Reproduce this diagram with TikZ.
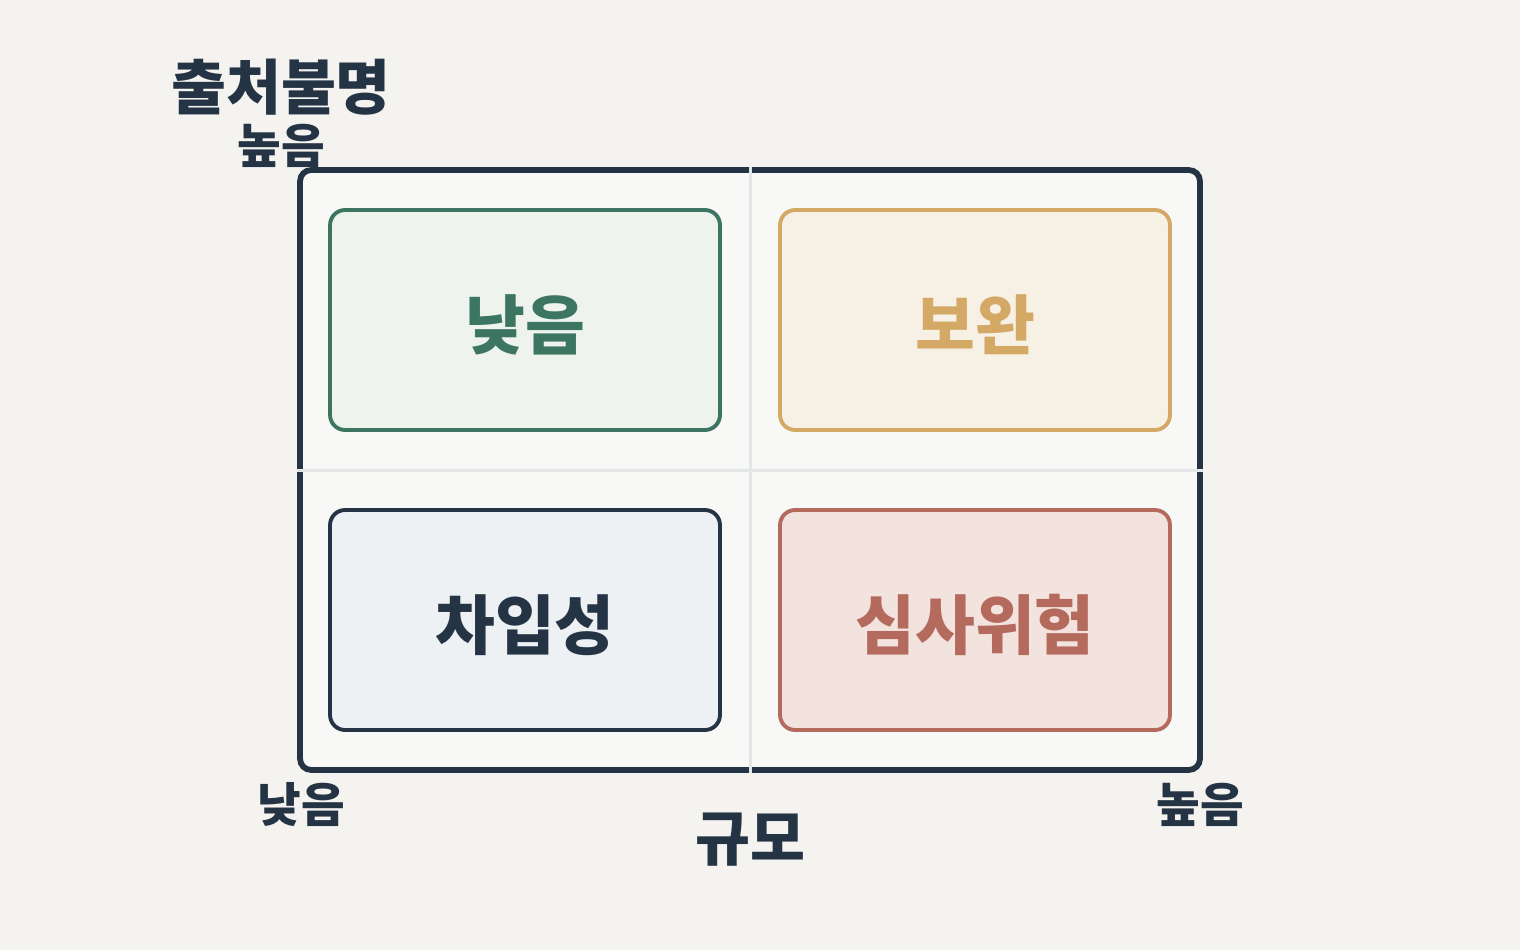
\documentclass[tikz,border=0pt]{standalone}
\usepackage{fontspec}
\newfontfamily\kr{Noto Sans CJK KR}
\usetikzlibrary{positioning}
\definecolor{bgpaper}{HTML}{F4F3EF}
\definecolor{navy}{HTML}{243444}
\definecolor{divider}{HTML}{E2E6E6}
\definecolor{greenline}{HTML}{3C7562}
\definecolor{greenfill}{HTML}{EEF3EE}
\definecolor{goldline}{HTML}{D4A865}
\definecolor{goldfill}{HTML}{F6F1E4}
\definecolor{navyline}{HTML}{243444}
\definecolor{navyfill}{HTML}{EDF1F4}
\definecolor{redline}{HTML}{B46A5C}
\definecolor{redfill}{HTML}{F3E3DF}
\definecolor{framefill}{HTML}{F8F8F7}
\begin{document}
\begin{tikzpicture}[x=0.02cm,y=-0.02cm,
  frame/.style={draw=navy,line width=3.3pt,fill=framefill,rounded corners=0.22cm,
    minimum width=18cm,minimum height=12cm,inner sep=0pt},
  cell/.style={line width=2.2pt,rounded corners=0.3cm,minimum width=7.8cm,minimum height=4.4cm,
    inner sep=0pt},
  celltext/.style={inner sep=0pt,yshift=-0.1cm,font=\kr\bfseries\fontsize{37}{44}\selectfont},
  axis/.style={text=navy,inner sep=0pt,font=\kr\bfseries\fontsize{27}{32}\selectfont},
  title/.style={text=navy,inner sep=0pt,font=\kr\bfseries\fontsize{34}{40}\selectfont}]
\fill[bgpaper] (0,0) rectangle (1520,950);
\useasboundingbox (0,0) rectangle (1520,950);
\node[frame] (frame) at (750,470) {};
\draw[divider,line width=1.7pt] (frame.north) -- (frame.south);
\draw[divider,line width=1.7pt] (frame.west) -- (frame.east);
% quadrants
\def\quadrant#1#2#3#4#5{
\node[cell,draw=#4line,fill=#4fill,
  label={[celltext,text=#4line,name=#1-text]center:#5}] (#1) at (#2,#3) {};
}
\quadrant{low}{525}{320}{green}{낮음}
\quadrant{comp}{975}{320}{gold}{보완}
\quadrant{borrow}{525}{620}{navy}{차입성}
\quadrant{risk}{975}{620}{red}{심사위험}
% axes
\node[title] (ylabel) at (281,87) {출처불명};
\node[axis] (yhigh) at (281,146) {높음};
\node[axis] (xlow) at (301,805) {낮음};
\node[axis] (xhigh) at (1200,805) {높음};
\node[title] (xlabel) at (750,840) {규모};
\end{tikzpicture}
\end{document}
